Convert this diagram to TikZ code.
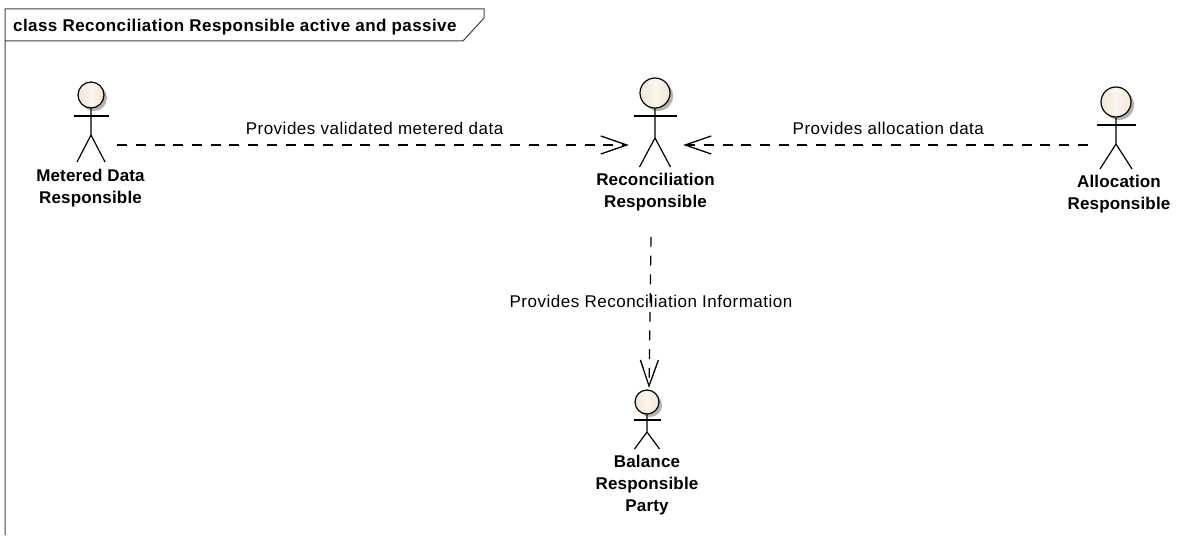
\documentclass[tikz,border=0pt]{standalone}
\usepackage{fontspec}
\setmainfont{Liberation Sans}
\usetikzlibrary{positioning,arrows.meta,shadows}
\definecolor{headskin}{HTML}{F3E6D6}
\definecolor{headlight}{HTML}{FBF5EC}
\definecolor{framegray}{HTML}{404040}
\tikzset{
  actorhead/.style={circle,draw=black,line width=1.2pt,inner sep=0pt,
    left color=headskin,right color=headskin,middle color=headlight,
    drop shadow={shadow xshift=3pt,shadow yshift=-3pt,fill=black!30,opacity=1}},
  actorline/.style={draw=black,line width=1.2pt},
  actorzone/.style={inner sep=0pt,minimum height=30pt},
  actorname/.style={font=\fontsize{17}{22}\selectfont\bfseries\addfontfeature{LetterSpace=1},align=center,inner sep=0pt,text=black},
  msglabel/.style={font=\fontsize{17}{20}\selectfont\addfontfeature{LetterSpace=3},inner sep=0pt,text=black},
  dependency/.style={draw=black,line width=1.2pt,dash pattern=on 10pt off 8.7pt,
    -{Straight Barb[length=26pt,width=18pt,line width=1.3pt]}}
}
% name, x, y, radius, arm drop, half arm, hip drop, leg dx, leg drop
\newcommand{\actorfig}[9]{
  \begin{scope}[shift={(#2,#3)}]
    \node[actorhead,minimum size=#4*2pt] (#1) at (0,0) {};
    \draw[actorline] (#1.south) -- (0,#7) -- (-#8,#9);
    \draw[actorline] (0,#7) -- (#8,#9);
    \draw[actorline] (-#6,#5) -- (#6,#5);
  \end{scope}
}
\begin{document}
\begin{tikzpicture}[x=1pt,y=-1pt]
  \useasboundingbox (0,0) rectangle (1190,535);
  \draw[framegray,line width=1pt] (5,535) -- (5,9) -- (484,9) -- (484,18) -- (463,41) -- (5,41);
  \node[anchor=west,inner sep=0pt,font=\fontsize{17}{20}\selectfont\bfseries\addfontfeature{LetterSpace=2.5}] (title) at (13,27)
    {class Reconciliation Responsible active and passive};

  \actorfig{mdrhead}{91}{95}{13}{21}{17.5}{40}{14}{67}
  \actorfig{rrhead}{655}{93}{15}{23}{21.5}{45}{15.5}{74}
  \actorfig{arhead}{1116}{102}{15}{23}{19.5}{42}{16}{67}
  \actorfig{brphead}{647}{402}{12}{18}{13.5}{30}{12.5}{47}

  \node[actorname] (mdrlabel) at (90.5,188) {Metered Data\\Responsible};
  \node[actorname] (rrlabel) at (655.5,192) {Reconciliation\\Responsible};
  \node[actorname] (arlabel) at (1119,194) {Allocation\\Responsible};
  \node[actorname] (brplabel) at (647,485.5) {Balance\\Responsible\\Party};

  \node[actorzone,minimum width=52pt] (mdr) at (91,145) {};
  \node[actorzone,minimum width=54pt] (rr) at (656,145) {};
  \node[actorzone,minimum width=56pt] (ar) at (1116,145) {};
  \node[actorzone,minimum width=30pt,anchor=north] (brp) at (649,388) {};
  \node[actorzone,minimum width=30pt,anchor=south] (rrfoot) at (651,237) {};

  \path[dependency] (mdr) -- (rr) node[msglabel,pos=0.503,above=10pt] (msgmetered) {Provides validated metered data};
  \path[dependency] (ar) -- (rr) node[msglabel,pos=0.493,above=10pt] (msgalloc) {Provides allocation data};
  \path[dependency] (rrfoot.south) -- (brp.north);
  \node[msglabel] (msgrecon) at (651,301) {Provides Reconciliation Information};
\end{tikzpicture}
\end{document}
